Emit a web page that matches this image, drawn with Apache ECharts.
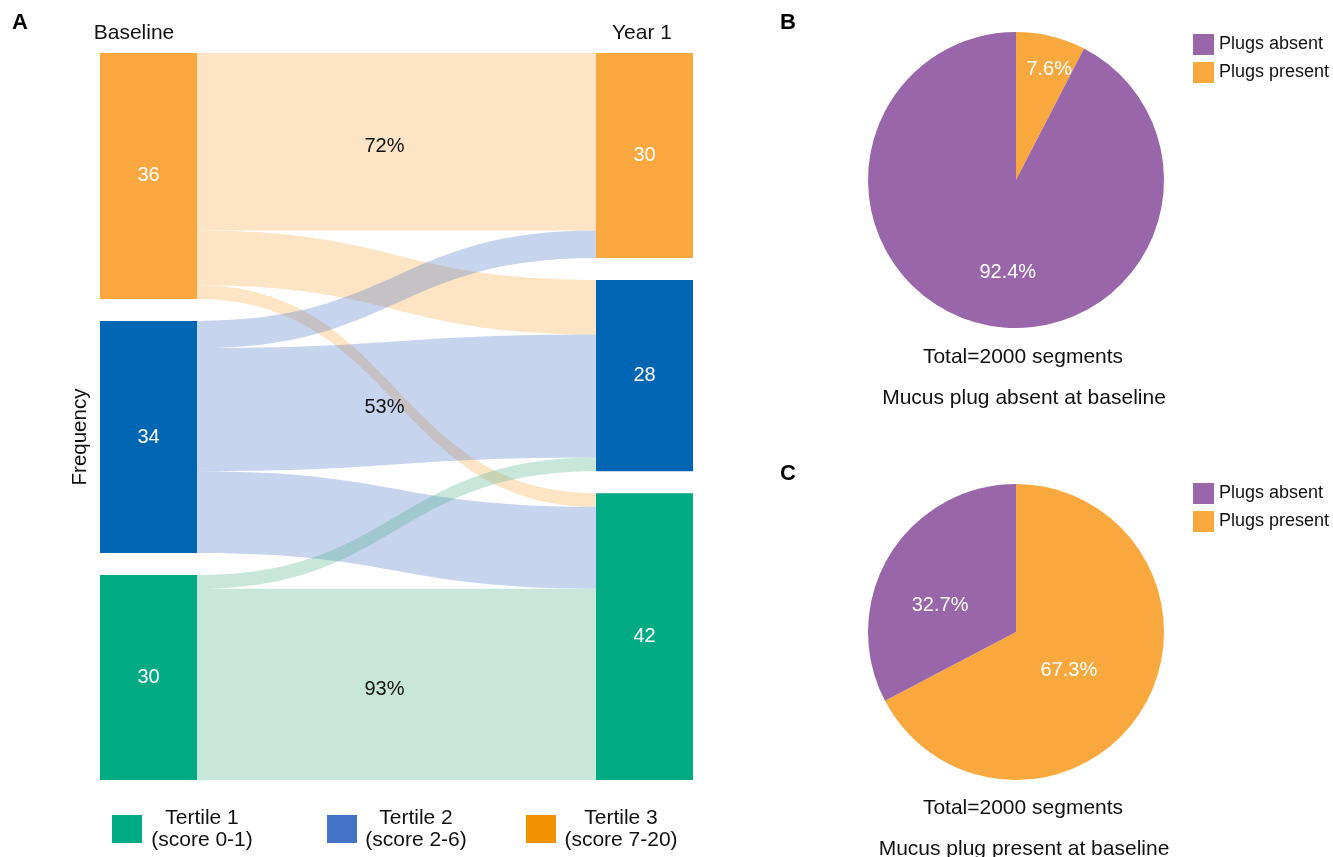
<!DOCTYPE html>
<html>
<head>
<meta charset="utf-8">
<script src="https://cdn.jsdelivr.net/npm/echarts@6/dist/echarts.min.js"></script>
<style>
  html, body { margin: 0; padding: 0; background: #fff; }
  #main { width: 1333px; height: 857px; }
</style>
</head>
<body>
<div id="main"></div>
<script>
// sankey data
const baselineNodes = ['Baseline T3', 'Baseline T2', 'Baseline T1']
const yearNodes = ['Year1 T3', 'Year1 T2', 'Year1 T1']
const nodeColors = ['#F9A73E', '#0066B3', '#00AB84']
const linkColors = ['rgba(249,167,62,0.3)', 'rgba(68,114,196,0.3)', 'rgba(72,172,132,0.3)']
// flows[i][j] = baseline tertile i -> year 1 tertile j (order T3, T2, T1)
const flows = [
  [26, 8, 2],
  [4, 18, 12],
  [0, 2, 28]
]
const flowLabels = [
  ['72%', '', ''],
  ['', '53%', ''],
  ['', '', '93%']
]

// legend under sankey
const tertileNames = ['Tertile 1\n(score 0-1)', 'Tertile 2\n(score 2-6)', 'Tertile 3\n(score 7-20)']
const tertileColors = ['#00AB84', '#4472C4', '#F39200']

// pies
const pieNames = ['Plugs present', 'Plugs absent']
const pieColors = ['#F9A83E', '#9966AA']
const pieB = [7.6, 92.4]
const pieC = [67.3, 32.7]

const font = 'Liberation Sans, Arial, Helvetica, sans-serif'
const chart = echarts.init(document.getElementById('main'))

const nodes = []
baselineNodes.forEach((n, i) => nodes.push({ name: n, itemStyle: { color: nodeColors[i] } }))
yearNodes.forEach((n, i) => nodes.push({ name: n, itemStyle: { color: nodeColors[i] } }))

const links = []
flows.forEach((row, i) => {
  row.forEach((v, j) => {
    if (v > 0) {
      links.push({
        source: baselineNodes[i],
        target: yearNodes[j],
        value: v,
        pct: flowLabels[i][j],
        lineStyle: { color: linkColors[i], opacity: 1 }
      })
    }
  })
})

function pieSeries(values, center, offsets) {
  return {
    type: 'pie',
    center: center,
    radius: 148,
    startAngle: 90,
    clockwise: true,
    silent: true,
    label: {
      show: true,
      position: 'inside',
      color: '#fff',
      fontFamily: font,
      fontSize: 20,
      formatter: (p) => p.value.toFixed(1) + '%'
    },
    labelLine: { show: false },
    data: values.map((v, i) => ({
      name: pieNames[i],
      value: v,
      itemStyle: { color: pieColors[i] },
      label: { offset: offsets[i] }
    }))
  }
}

const legendGraphics = []
const legendX = [112, 327, 526]
const legendTextX = [202, 416, 621]
tertileNames.forEach((name, i) => {
  legendGraphics.push({
    type: 'rect',
    left: legendX[i],
    top: 815,
    shape: { width: 30, height: 28 },
    style: { fill: tertileColors[i] }
  })
  legendGraphics.push({
    type: 'text',
    x: legendTextX[i],
    y: 829,
    style: {
      text: name,
      fill: '#111',
      font: '21px ' + font,
      align: 'center',
      verticalAlign: 'middle',
      lineHeight: 22
    }
  })
})

function txt(text, x, y, size, opts) {
  return Object.assign({
    type: 'text',
    x: x,
    y: y,
    style: {
      text: text,
      fill: '#111',
      font: size + 'px ' + font,
      align: 'center',
      verticalAlign: 'middle'
    }
  }, opts || {})
}

function letter(t, x, y) {
  return {
    type: 'text',
    x: x,
    y: y,
    style: { text: t, fill: '#000', font: 'bold 22px ' + font, align: 'center', verticalAlign: 'middle' }
  }
}

const pieLegend = (top) => ({
  orient: 'vertical',
  left: 1188,
  top: top,
  icon: 'rect',
  itemWidth: 21,
  itemHeight: 21,
  itemGap: 8,
  itemGap: 7,
  data: ['Plugs absent', 'Plugs present'],
  textStyle: { fontSize: 18, color: '#111', fontFamily: font },
  selectedMode: false
})

chart.setOption({
  animation: false,
  textStyle: { fontFamily: font },
  legend: [pieLegend(29), pieLegend(478)],
  graphic: [
    letter('A', 20, 23),
    letter('B', 788, 23),
    letter('C', 788, 474),
    txt('Baseline', 134, 33, 21),
    txt('Year 1', 642, 33, 21),
    txt('Frequency', 80, 437, 20.5, { rotation: Math.PI / 2 }),
    txt('Total=2000 segments', 1023, 357, 21),
    txt('Mucus plug absent at baseline', 1024, 398, 21),
    txt('Total=2000 segments', 1023, 808, 21),
    txt('Mucus plug present at baseline', 1024, 849, 21)
  ].concat(legendGraphics),
  series: [
    {
      type: 'sankey',
      left: 100,
      right: 640,
      top: 53,
      bottom: 77,
      nodeWidth: 97,
      nodeGap: 22,
      layoutIterations: 0,
      draggable: false,
      silent: true,
      label: {
        show: true,
        position: 'inside',
        color: '#fff',
        fontSize: 20,
        fontFamily: font,
        formatter: '{c}'
      },
      edgeLabel: {
        show: true,
        color: '#111',
        fontSize: 20,
        fontFamily: font,
        offset: [-12, 5],
        formatter: (p) => p.data.pct || ''
      },
      lineStyle: { curveness: 0.5 },
      emphasis: { disabled: true },
      data: nodes,
      links: links
    },
    pieSeries(pieB, [1016, 180], [[15, -36], [10, 18]]),
    pieSeries(pieC, [1016, 632], [[-13, -1], [-10, 13]])
  ]
})
</script>
</body>
</html>
